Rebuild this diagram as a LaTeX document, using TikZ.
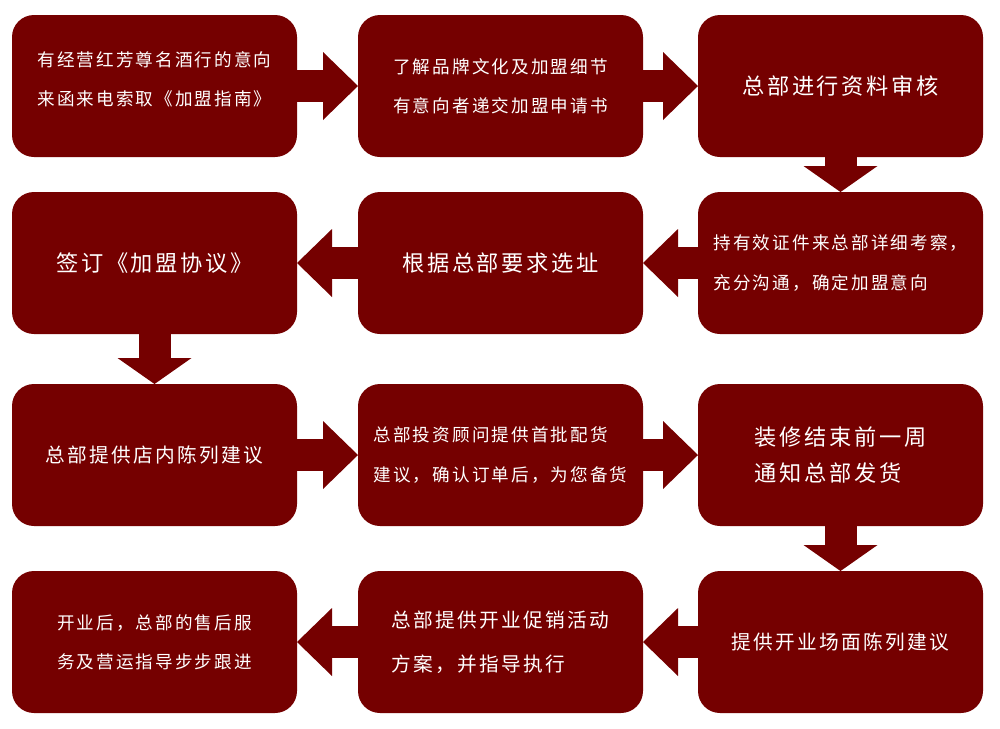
\documentclass[tikz,border=0pt]{standalone}
\definecolor{hongfangRed}{RGB}{117,0,0}
\usepackage{fontspec}
\newfontfamily\cjkfont[LetterSpace=12]{Noto Sans CJK SC}
\newcommand{\cjkS}{\cjkfont\fontsize{12.5}{28}\selectfont}
\newcommand{\cjkM}{\cjkfont\fontsize{14}{28}\selectfont}
\newcommand{\cjkL}{\cjkfont\fontsize{15.8}{25}\selectfont}
\usetikzlibrary{arrows.meta,positioning}

\begin{document}
\begin{tikzpicture}[
  box/.style={fill=hongfangRed, rounded corners=0.55cm, minimum width=7.125cm,
              minimum height=3.55cm, inner sep=0pt, outer sep=0pt, text=white, align=left},
  flow/.style={draw=hongfangRed, line width=0.8cm,
               -{Triangle[length=0.875cm, width=1.7cm, line width=0pt]}},
  flowdown/.style={draw=hongfangRed, line width=0.8cm,
               -{Triangle[length=0.65cm, width=1.85cm, line width=0pt]}}
]
  \useasboundingbox (0,0) rectangle (25,-18.2);

  % row 1
  \node[box, font=\cjkS, anchor=north west] (apply) at (0.3,-0.375)
        {有经营红芳尊名酒行的意向\\来函来电索取《加盟指南》\\[-17pt]};
  \node[box, font=\cjkS, right=1.525cm of apply]  (learn)  {了解品牌文化及加盟细节\\有意向者递交加盟申请书};
  \node[box, font=\cjkL, right=1.375cm of learn]  (review) {总部进行资料审核};

  % row 2
  \node[box, font=\cjkL, below=0.875cm of apply]  (sign)   {签订《加盟协议》};
  \node[box, font=\cjkL, below=0.875cm of learn]  (site)   {根据总部要求选址};
  \node[box, font=\cjkS, below=0.875cm of review] (visit)  {持有效证件来总部详细考察，\\充分沟通，确定加盟意向};

  % row 3
  \node[box, font=\cjkM, below=1.25cm of sign]    (layout) {总部提供店内陈列建议};
  \node[box, font=\cjkS, below=1.25cm of site]    (stock)  {总部投资顾问提供首批配货\\建议，确认订单后，为您备货};
  \node[box, font=\cjkL, below=1.25cm of visit]   (notice) {装修结束前一周\\通知总部发货};

  % row 4
  \node[box, font=\cjkS, below=1.125cm of layout] (service) {开业后，总部的售后服\\务及营运指导步步跟进};
  \node[box, font=\cjkM, below=1.125cm of stock]  (promo)   {总部提供开业促销活动\\[3pt]方案，并指导执行};
  \node[box, font=\cjkM, below=1.125cm of notice] (display) {提供开业场面陈列建议};

  % arrows
  \draw[flow] (apply.east) -- (learn.west);
  \draw[flow] (learn.east) -- (review.west);
  \draw[flowdown] (review.south) -- (visit.north);
  \draw[flow] (visit.west) -- (site.east);
  \draw[flow] (site.west) -- (sign.east);
  \draw[flowdown] (sign.south) -- (layout.north);
  \draw[flow] (layout.east) -- (stock.west);
  \draw[flow] (stock.east) -- (notice.west);
  \draw[flowdown] (notice.south) -- (display.north);
  \draw[flow] (display.west) -- (promo.east);
  \draw[flow] (promo.west) -- (service.east);
\end{tikzpicture}
\end{document}
